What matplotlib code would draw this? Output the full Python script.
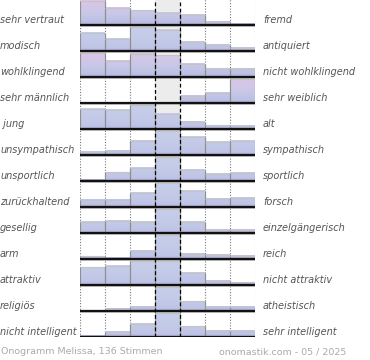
import numpy as np
import matplotlib
matplotlib.use("Agg")
import matplotlib.pyplot as plt
from matplotlib.colors import to_rgb
import matplotlib.transforms as mtransforms

left_labels = ["sehr vertraut", "modisch", "wohlklingend", "sehr männlich", " jung",
               "unsympathisch", "unsportlich", "zurückhaltend", "gesellig", "arm",
               "attraktiv", "religiös", "nicht intelligent"]
right_labels = ["fremd", "antiquiert", "nicht wohlklingend", "sehr weiblich", "alt",
                "sympathisch", "sportlich", "forsch", "einzelgängerisch", "reich",
                "nicht attraktiv", "atheistisch", "sehr intelligent"]

# relative bar heights per row (percent of the largest possible bar), 7 scale steps
values = [
    [98, 72, 61, 50, 42, 13, 7],
    [76, 52, 99, 86, 38, 27, 15],
    [98, 68, 94, 89, 53, 33, 33],
    [0, 0, 0, 0, 31, 41, 100],
    [84, 78, 98, 64, 30, 16, 15],
    [15, 19, 60, 97, 76, 56, 60],
    [5, 36, 56, 97, 46, 31, 34],
    [30, 30, 57, 98, 68, 33, 37],
    [45, 52, 48, 98, 48, 13, 13],
    [12, 7, 34, 98, 23, 19, 13],
    [73, 79, 100, 100, 49, 19, 12],
    [4, 11, 18, 98, 40, 18, 18],
    [5, 23, 53, 98, 44, 27, 27],
]
pink_rows = [True, False, True, True, False, False, False, False, False, False, False, False, False]

footer_left = "Onogramm Melissa, 136 Stimmen"
footer_right = "onomastik.com - 05 / 2025"

W, H = 370, 360
fig = plt.figure(figsize=(W / 100, H / 100), dpi=100)
fig.patch.set_facecolor("white")

n_rows = len(values)
n_cols = len(values[0])
row_px = 26.0
bottom_px = 337.3
ax = fig.add_axes([80 / W, (H - bottom_px) / H, 175 / W, n_rows * row_px / H])
ax.set_xlim(0, n_cols)
ax.set_ylim(0, n_rows)
ax.axis("off")

# centre column background
ax.axvspan(3, 4, color="#ececec", zorder=0, lw=0)

# grid lines
for x in [0, 1, 2, 5, 6, 7]:
    ax.axvline(x, color="#777777", lw=0.8, ls=(0, (1, 1.5)), zorder=1)
for x in [3, 4]:
    ax.axvline(x, color="#000000", lw=0.9, ls=(0, (3, 2)), zorder=6)

max_h = 0.945


def grad(pink, n=64, top=1.0):
    ys = np.linspace(0, top, n)
    if pink:
        stops = [(0, "#a59ecd"), (0.1, "#bcc0e4"), (0.45, "#c9c8e8"), (1.0, "#dfc5e5")]
    else:
        stops = [(0, "#a59ecd"), (0.1, "#bfc4e6"), (0.5, "#c4cbe8"), (1.0, "#c8cfea")]
    pos = [s[0] for s in stops]
    cols = np.array([to_rgb(s[1]) for s in stops])
    img = np.zeros((n, 1, 3))
    for c in range(3):
        img[:, 0, c] = np.interp(ys, pos, cols[:, c])
    return img


for r, row in enumerate(values):
    base = n_rows - 1 - r
    for c, v in enumerate(row):
        if v <= 0:
            continue
        h = v / 100 * max_h
        img = grad(pink_rows[r], top=h)
        ax.imshow(img, extent=(c, c + 1, base, base + h), origin="lower",
                  aspect="auto", interpolation="bilinear", zorder=2)
        ax.bar(c, h, bottom=base, width=1, align="edge", facecolor="none",
               edgecolor="#c4c4c4", lw=0.8, zorder=3)
        ax.vlines([c, c + 1], base, base + h, color="#8f8f8f", lw=0.8, zorder=3)
    ax.hlines(base, 0, n_cols, color="#111111", lw=1.6, zorder=5)
    ax.hlines(base - 0.04, 0, n_cols, color="#bbbbbb", lw=0.6, zorder=4)

ax.set_xlim(0, n_cols)
ax.set_ylim(0, n_rows)

tr_left = mtransforms.blended_transform_factory(fig.transFigure, ax.transData)
for r in range(n_rows):
    base = n_rows - 1 - r
    ax.text(0.0 / W, base + 0.22, left_labels[r], transform=tr_left, ha="left",
            va="center", fontsize=7.0, style="italic", color="#555555")
    ax.text(263 / W, base + 0.22, right_labels[r], transform=tr_left, ha="left",
            va="center", fontsize=7.0, style="italic", color="#555555")

fig.text(1 / W, 1 - 352 / H, footer_left, ha="left", va="center",
         fontsize=6.8, color="#aaaaaa")
fig.text(346 / W, 1 - 352 / H, footer_right, ha="right", va="center",
         fontsize=6.8, color="#aaaaaa")

fig.savefig("out.png", dpi=100, facecolor="white")
